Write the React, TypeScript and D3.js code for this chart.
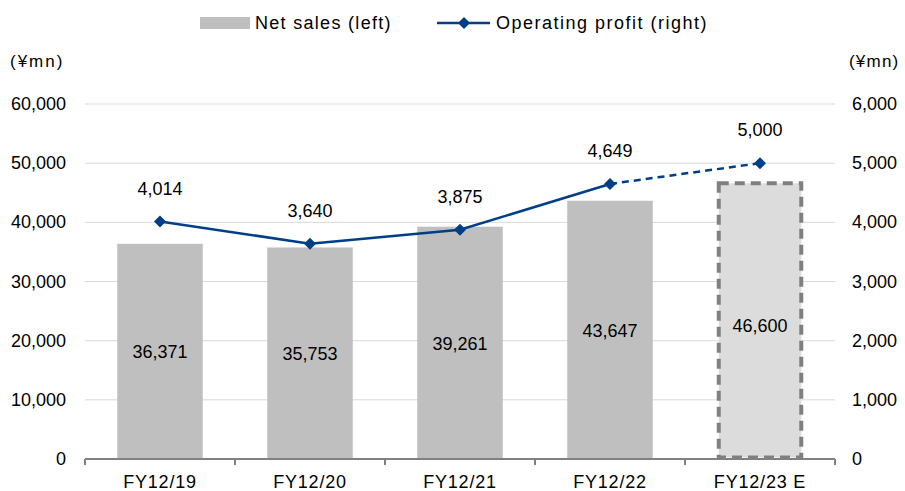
import React from 'react'
import * as d3 from 'd3'

const categories = ['FY12/19', 'FY12/20', 'FY12/21', 'FY12/22', 'FY12/23 E']
const netSales = [36371, 35753, 39261, 43647, 46600]
const opProfit = [4014, 3640, 3875, 4649, 5000]
const leftTicks = [0, 10000, 20000, 30000, 40000, 50000, 60000]
const rightTicks = [0, 1000, 2000, 3000, 4000, 5000, 6000]
const estimateIndex = 4

const W = 905
const H = 491
const plot = { left: 85, right: 835, top: 104, bottom: 459 }
const font = '"Liberation Sans", Arial, sans-serif'
const navy = '#003f87'

export default function App() {
  const fmt = d3.format(',')
  const x = d3.scaleBand().domain(categories).range([plot.left, plot.right]).paddingInner(0.43).paddingOuter(0.215)
  const yL = d3.scaleLinear().domain([0, 60000]).range([plot.bottom, plot.top])
  const yR = d3.scaleLinear().domain([0, 6000]).range([plot.bottom, plot.top])
  const cx = (c: string) => (x(c) ?? 0) + x.bandwidth() / 2
  const pts = categories.map((c, i) => [cx(c), yR(opProfit[i])] as [number, number])
  const line = d3.line()
  const solid = line(pts.slice(0, estimateIndex)) || ''
  const dashed = line(pts.slice(estimateIndex - 1)) || ''
  const step = (plot.right - plot.left) / categories.length
  const diamond = (px: number, py: number, r = 6) => `M${px},${py - r}L${px + r},${py}L${px},${py + r}L${px - r},${py}Z`

  return (
    <svg width={W} height={H} style={{ position: 'absolute', left: 0, top: 0 }} fontFamily={font}>
      <rect width={W} height={H} fill="#fff" />
      {/* gridlines */}
      {leftTicks.slice(1).map(t => (
        <line key={t} x1={plot.left} x2={plot.right} y1={yL(t)} y2={yL(t)} stroke="#d9d9d9" strokeWidth={1} />
      ))}
      {/* bars */}
      {categories.map((c, i) => {
        const bx = x(c) ?? 0
        const by = yL(netSales[i])
        const bh = plot.bottom - by
        return i === estimateIndex ? (
          <rect key={c} x={bx + 1.5} y={by} width={x.bandwidth() - 3} height={bh - 1.5} fill="#dcdcdc"
            stroke="#808080" strokeWidth={4} strokeDasharray="10,6" />
        ) : (
          <rect key={c} x={bx} y={by} width={x.bandwidth()} height={bh} fill="#bfbfbf" />
        )
      })}
      {/* bar labels */}
      {categories.map((c, i) => (
        <text key={c} x={cx(c)} y={(yL(netSales[i]) + plot.bottom) / 2 + 7 + (i === estimateIndex ? 4 : 0)} textAnchor="middle" fontSize={18} fill="#000">
          {fmt(netSales[i])}
        </text>
      ))}
      {/* x axis */}
      <line x1={plot.left} x2={plot.right} y1={plot.bottom} y2={plot.bottom} stroke="#808080" strokeWidth={2} />
      {d3.range(categories.length + 1).map(i => (
        <line key={i} x1={plot.left + i * step} x2={plot.left + i * step} y1={plot.bottom} y2={plot.bottom + 6} stroke="#808080" strokeWidth={2} />
      ))}
      {categories.map(c => (
        <text key={c} x={cx(c)} y={488} textAnchor="middle" fontSize={18} letterSpacing={0.8} fill="#000">{c}</text>
      ))}
      {/* axes labels */}
      {leftTicks.map(t => (
        <text key={t} x={66} y={yL(t) + 6} textAnchor="end" fontSize={18} fill="#000">{fmt(t)}</text>
      ))}
      {rightTicks.map(t => (
        <text key={t} x={852} y={yR(t) + 6} textAnchor="start" fontSize={18} fill="#000">{fmt(t)}</text>
      ))}
      <text x={10} y={67} fontSize={17} letterSpacing={2} fill="#000">(¥mn)</text>
      <text x={849} y={67} fontSize={17} letterSpacing={1.2} fill="#000">(¥mn)</text>
      {/* line */}
      <path d={solid} fill="none" stroke={navy} strokeWidth={2.5} />
      <path d={dashed} fill="none" stroke={navy} strokeWidth={2.5} strokeDasharray="7,5" />
      {pts.map(([px, py], i) => (
        <path key={i} d={diamond(px, py)} fill={navy} />
      ))}
      {pts.map(([px, py], i) => (
        <text key={i} x={px} y={py - 27} textAnchor="middle" fontSize={18} fill="#000">{fmt(opProfit[i])}</text>
      ))}
      {/* legend */}
      <rect x={200} y={17} width={50} height={12} fill="#bfbfbf" />
      <text x={255} y={29} fontSize={18} letterSpacing={1.3} fill="#000">Net sales (left)</text>
      <line x1={437} x2={490} y1={23} y2={23} stroke={navy} strokeWidth={2.5} />
      <path d={diamond(464, 23)} fill={navy} />
      <text x={496} y={29} fontSize={18} letterSpacing={1.5} fill="#000">Operating profit (right)</text>
    </svg>
  )
}
